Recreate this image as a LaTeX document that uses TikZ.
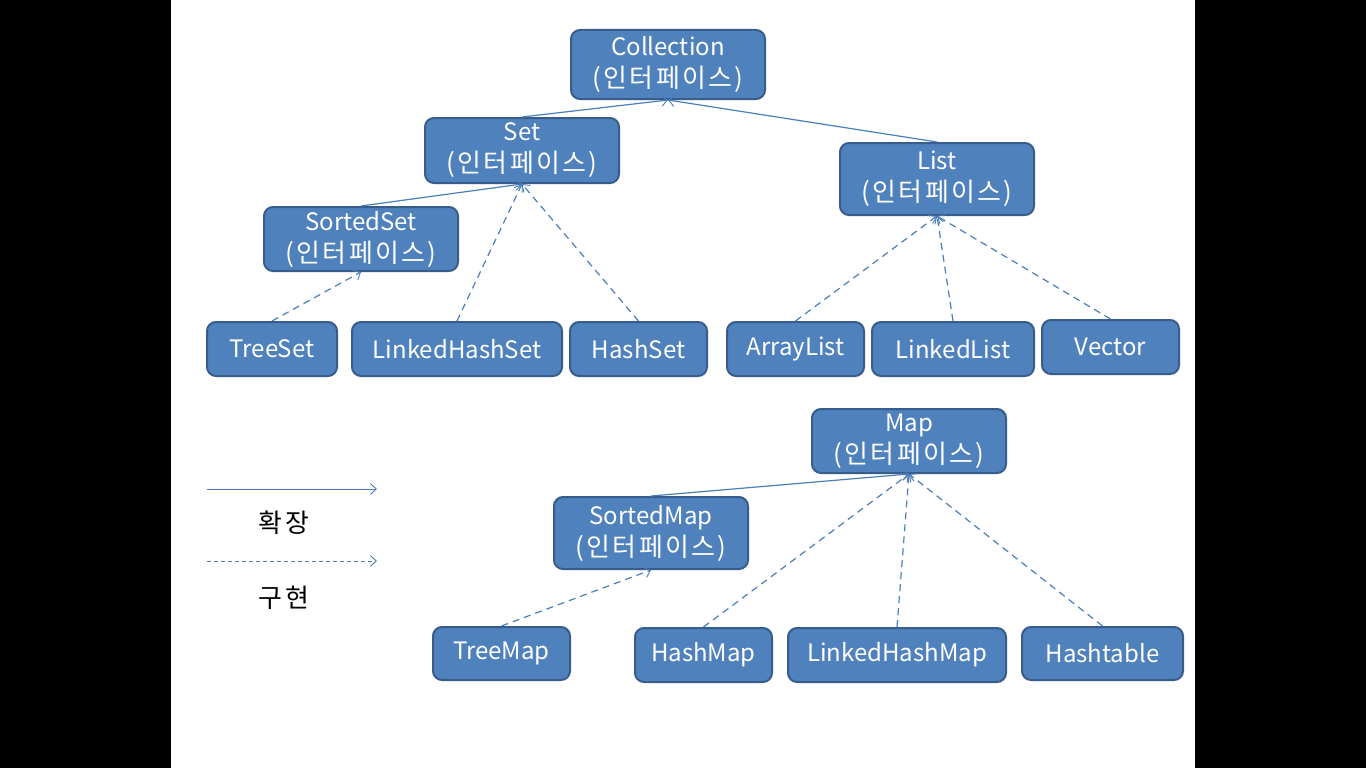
\documentclass[tikz,border=0pt]{standalone}
\usepackage{fontspec}
\setmainfont{Noto Sans CJK KR}
\newfontfamily\kr[Scale=1.08,LetterSpace=9]{Noto Sans CJK KR}
\usetikzlibrary{arrows.meta}
\definecolor{boxfill}{HTML}{4F81BD}
\definecolor{boxline}{HTML}{385D8A}
\definecolor{conn}{HTML}{4A7EBB}
\newcommand{\intf}{{\kr(인터페이스)}}
\tikzset{
  cls/.style={draw=boxline, line width=2pt, fill=boxfill, rounded corners=9pt, text=white,
    font=\fontsize{24}{32}\selectfont, align=center, inner sep=0pt, minimum height=#1},
  cls/.default=54pt,
  ext/.style={draw=conn, line width=1.2pt, -{Straight Barb[length=6pt,width=11pt,line width=0.9pt]}},
  impl/.style={ext, dash pattern=on 7pt off 5pt},
  legtext/.style={font=\kr\fontsize{24}{28}\selectfont},
}
\begin{document}
\begin{tikzpicture}[x=1pt,y=-1pt]
\useasboundingbox (0,0) rectangle (1366,768);
\fill[black] (0,0) rectangle (171,768);
\fill[black] (1195,0) rectangle (1366,768);
\fill[white] (171,0) rectangle (1195,768);
% nodes
\node[cls=69pt, minimum width=194pt] (coll) at (668,64.5) {Collection\\\intf};
\node[cls=65pt, minimum width=194pt] (set) at (522,150.5) {Set\\\intf};
\node[cls=72pt, minimum width=194pt] (list) at (937,179) {List\\\intf};
\node[cls=64pt, minimum width=194pt] (sset) at (361,239) {SortedSet\\\intf};
\node[cls, minimum width=130pt] (tset) at (272,349) {TreeSet};
\node[cls, minimum width=210pt] (lhset) at (457,349) {LinkedHashSet};
\node[cls, minimum width=137pt] (hset) at (638.5,349) {HashSet};
\node[cls, minimum width=137pt] (alist) at (795.5,349) {ArrayList};
\node[cls, minimum width=162pt] (llist) at (953,349) {LinkedList};
\node[cls, minimum width=137pt] (vec) at (1110.5,347) {Vector};
\node[cls=64pt, minimum width=194pt] (map) at (909,441) {Map\\\intf};
\node[cls=72pt, minimum width=194pt] (smap) at (651,533) {SortedMap\\\intf};
\node[cls=53pt, minimum width=137pt] (tmap) at (501.5,653.5) {TreeMap};
\node[cls, minimum width=137pt] (hmap) at (703.5,655) {HashMap};
\node[cls, minimum width=218pt] (lhmap) at (897,655) {LinkedHashMap};
\node[cls=53pt, minimum width=161pt] (htab) at (1102.5,653.5) {Hashtable};
% connectors
\draw[ext] (set.north) -- (coll.south);
\draw[ext] (list.north) -- (coll.south);
\draw[ext] (sset.north) -- (set.south);
\draw[impl] (tset.north) -- (sset.south);
\draw[impl] (lhset.north) -- (set.south);
\draw[impl] (hset.north) -- (set.south);
\draw[impl] (alist.north) -- (list.south);
\draw[impl] (llist.north) -- (list.south);
\draw[impl] (vec.north) -- (list.south);
\draw[ext] (smap.north) -- (map.south);
\draw[impl] (tmap.north) -- (smap.south);
\draw[impl] (hmap.north) -- (map.south);
\draw[impl] (lhmap.north) -- (map.south);
\draw[impl] (htab.north) -- (map.south);
% legend
\coordinate (la1) at (207,489);
\coordinate (lb1) at (377,489);
\coordinate (la2) at (207,561);
\coordinate (lb2) at (377,561);
\draw[ext, line width=0.8pt] (la1) -- (lb1);
\draw[impl, line width=0.8pt, dash pattern=on 4pt off 3pt] (la2) -- (lb2);
\node[legtext] (lext) at (284,523) {확장};
\node[legtext] (limpl) at (284,598) {구현};
\end{tikzpicture}
\end{document}
